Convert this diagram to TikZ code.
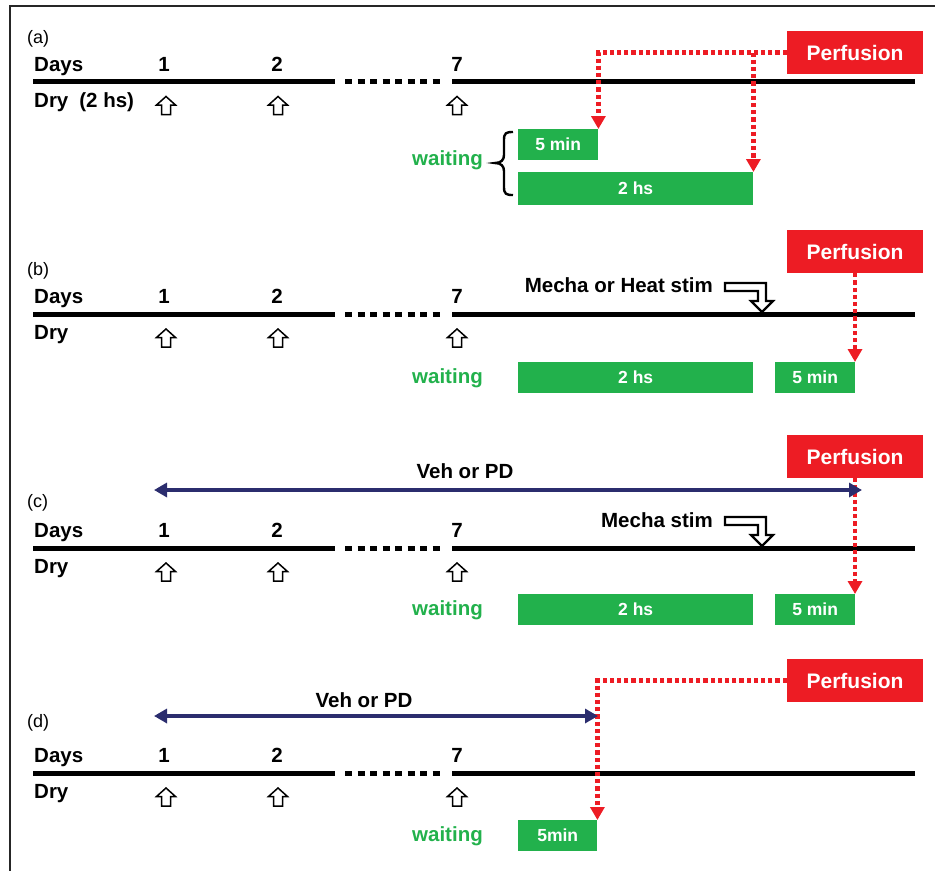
\documentclass[tikz,border=0pt]{standalone}
\usepackage{fontspec}
\setmainfont{Liberation Sans}
\usetikzlibrary{arrows.meta}
\definecolor{redp}{HTML}{ED1C24}
\definecolor{greenp}{HTML}{22B14C}
\definecolor{navyp}{HTML}{2B2D6E}
\begin{document}
\begin{tikzpicture}[x=1pt,y=-1pt,
  lbl/.style={font=\fontsize{20.5}{24}\selectfont\bfseries, inner sep=0pt, anchor=base},
  panellbl/.style={font=\fontsize{18}{21}\selectfont, inner sep=0pt, anchor=base west},
  perf/.style={fill=redp, text=white, font=\fontsize{21}{25}\selectfont\bfseries, minimum width=136pt, minimum height=43pt, inner sep=0pt},
  gbox/.style={fill=greenp, text=white, font=\fontsize{17.5}{21}\selectfont\bfseries, minimum height=31pt, inner sep=0pt, anchor=north west},
  waitlbl/.style={text=greenp, font=\fontsize{20.5}{24}\selectfont\bfseries, inner sep=0pt, anchor=base west},
  reddot/.style={draw=redp, line width=4.2pt, dash pattern=on 4.2pt off 3pt, -{Triangle[width=14pt,length=13pt]}},
  navyarr/.style={draw=navyp, line width=3.2pt, {Triangle[width=14pt,length=13pt]}-{Triangle[width=14pt,length=13pt]}},
  tline/.style={line width=5pt},
  uparrow/.pic={\draw[line width=1.5pt, fill=white] (0,0) -- (9.5,8.5) -- (4.5,8.5) -- (4.5,18) -- (-4.5,18) -- (-4.5,8.5) -- (-9.5,8.5) -- cycle;},
  stimarrow/.pic={\draw[line width=2.2pt, fill=white] (-37,-29) -- (4,-29) -- (4,-11) -- (11,-11) -- (0,0) -- (-11,-11) -- (-4,-11) -- (-4,-21) -- (-37,-21) -- cycle;}
]
\useasboundingbox (0,0) rectangle (935,871);
\draw[line width=2.5pt, color=black!85] (935,6) -- (10,6) -- (10,871);

% timelines, day labels, dry arrows
\foreach \t/\p in {81.5/a,314/b,548/c,773/d} {
  \draw[tline] (33,\t) -- (335,\t);
  \draw[tline, dash pattern=on 7pt off 5.5pt] (345,\t) -- (441,\t);
  \draw[tline] (452,\t) -- (915,\t);
  \node[lbl, anchor=base west] (days\p) at (34,\t-10.5) {Days};
  \node[lbl] (one\p) at (164,\t-10.5) {1};
  \node[lbl] (two\p) at (277,\t-10.5) {2};
  \node[lbl] (seven\p) at (457,\t-10.5) {7};
  \pic at (166,\t+15) {uparrow};
  \pic at (278,\t+15) {uparrow};
  \pic at (457,\t+15) {uparrow};
}
\node[lbl, anchor=base west] (drya) at (34,107) {Dry\hspace{11pt}(2 hs)};
\node[lbl, anchor=base west] (dryb) at (34,339.5) {Dry};
\node[lbl, anchor=base west] (dryc) at (34,573) {Dry};
\node[lbl, anchor=base west] (dryd) at (34,798) {Dry};

% panel labels
\node[panellbl] (la) at (27,43) {(a)};
\node[panellbl] (lb) at (27,275) {(b)};
\node[panellbl] (lc) at (27,507) {(c)};
\node[panellbl] (ld) at (27,727) {(d)};

% Perfusion boxes
\node[perf] (pa) at (855,52.5) {Perfusion};
\node[perf] (pb) at (855,251.5) {Perfusion};
\node[perf] (pc) at (855,456.5) {Perfusion};
\node[perf] (pd) at (855,680.5) {Perfusion};

% green boxes
\node[gbox, minimum width=80pt] (a5) at (518,129) {5 min};
\node[gbox, minimum width=235pt, minimum height=33pt] (a2) at (518,172) {2 hs};
\node[gbox, minimum width=235pt] (b2) at (518,362) {2 hs};
\node[gbox, minimum width=80pt] (b5) at (775,362) {5 min};
\node[gbox, minimum width=235pt] (c2) at (518,594) {2 hs};
\node[gbox, minimum width=80pt] (c5) at (775,594) {5 min};
\node[gbox, minimum width=79pt] (d5) at (518,820) {5min};

% waiting labels
\node[waitlbl] (wa) at (412,165) {waiting};
\node[waitlbl] (wb) at (412,383) {waiting};
\node[waitlbl] (wc) at (412,615) {waiting};
\node[waitlbl] (wd) at (412,841) {waiting};

% brace in (a)
\draw[line width=2.4pt] (513,132) .. controls (506,132) and (504,133) .. (504,140) -- (504,155)
  .. controls (504,160) and (501,163) .. (495,163) .. controls (501,163) and (504,166) .. (504,171)
  -- (504,187) .. controls (504,194) and (506,195) .. (513,195);

% red perfusion connectors
\draw[reddot] (pa.west) -| (a5.north east);
\coordinate (ja) at (a2.north east |- pa.west);
\draw[reddot] (ja) -- (a2.north east);
\draw[reddot] (pb.south) -- (pb.south |- b5.north);
\draw[reddot] (pc.south) -- (pc.south |- c5.north);
\draw[reddot] (pd.west) -| (d5.north east);

% stimulation
\node[lbl, anchor=base east] (mb) at (713,292) {Mecha or Heat stim};
\pic at (762,312) {stimarrow};
\node[lbl, anchor=base east] (mc) at (713,527) {Mecha stim};
\pic at (762,546) {stimarrow};

% Veh or PD
\coordinate (vc1) at (154,490);
\coordinate (vc2) at (862,490);
\draw[navyarr] (vc1) -- (vc2);
\node[lbl] (vehc) at (465,478) {Veh or PD};
\coordinate (vd1) at (154,716);
\coordinate (vd2) at (598,716);
\draw[navyarr] (vd1) -- (vd2);
\node[lbl] (vehd) at (364,707) {Veh or PD};
\end{tikzpicture}
\end{document}
